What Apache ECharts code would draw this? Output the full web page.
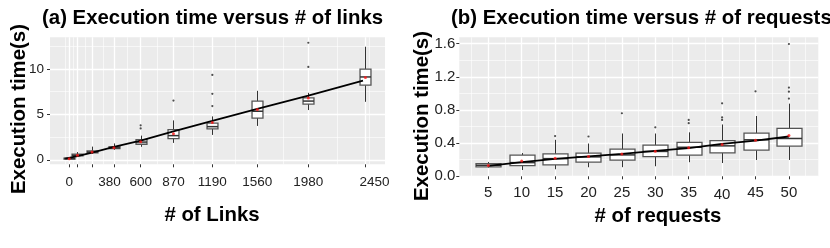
<!DOCTYPE html>
<html><head><meta charset="utf-8">
<script src="https://cdn.jsdelivr.net/npm/echarts@6/dist/echarts.min.js"></script>
<style>html,body{margin:0;padding:0;background:#fff}#c{width:830px;height:248px}</style>
</head><body><div id="c"></div>
<script>
// ---------- Panel (a): execution time vs # of links ----------
const linksX   = [12, 80, 200, 380, 600, 870, 1190, 1560, 1980, 2450];
const aLow     = [0.06, 0.30, 0.65, 1.10, 1.43, 1.86, 2.74, 3.73, 5.48, 6.39];
const aQ1      = [0.10, 0.42, 0.76, 1.22, 1.71, 2.34, 3.40, 4.60, 6.14, 8.22];
const aMed     = [0.14, 0.50, 0.86, 1.32, 1.95, 2.66, 3.65, 5.35, 6.47, 9.13];
const aQ3      = [0.18, 0.62, 0.98, 1.45, 2.22, 3.32, 4.05, 6.47, 6.83, 10.00];
const aHigh    = [0.25, 0.85, 1.45, 1.80, 2.66, 4.34, 4.78, 7.60, 7.38, 12.46];
const aMean    = [0.12, 0.50, 0.86, 1.32, 1.98, 2.88, 4.12, 5.55, 6.80, 9.06];
const aOutX    = [600, 600, 870, 1190, 1190, 1190, 1980, 1980];
const aOutY    = [3.80, 3.45, 6.53, 9.35, 7.27, 5.92, 10.23, 12.90];
const aTrendX  = [-20, 80, 200, 380, 600, 870, 1190, 1560, 1980, 2430];
const aTrendY  = [0.12, 0.40, 0.80, 1.43, 2.12, 3.14, 4.28, 5.62, 7.08, 8.73];
const aTickLabels = ['0', '380', '600', '870', '1190', '1560', '1980', '2450'];
const aLabelPos   = [12, 343, 600, 870, 1190, 1560, 1980, 2525];
const aYTicks  = [0, 5, 10];

// ---------- Panel (b): execution time vs # of requests ----------
const reqX     = [5, 10, 15, 20, 25, 30, 35, 40, 45, 50];
const bLow     = [0.105, 0.076, 0.085, 0.109, 0.110, 0.121, 0.170, 0.160, 0.197, 0.197];
const bQ1      = [0.113, 0.129, 0.137, 0.170, 0.194, 0.238, 0.255, 0.282, 0.315, 0.364];
const bMed     = [0.133, 0.165, 0.213, 0.234, 0.258, 0.300, 0.350, 0.367, 0.440, 0.456];
const bQ3      = [0.153, 0.255, 0.270, 0.279, 0.327, 0.375, 0.408, 0.430, 0.520, 0.577];
const bHigh    = [0.173, 0.280, 0.440, 0.395, 0.516, 0.516, 0.530, 0.625, 0.727, 0.876];
const bMean    = [0.130, 0.185, 0.218, 0.238, 0.270, 0.303, 0.343, 0.383, 0.436, 0.492];
const bOutX    = [15, 20, 25, 30, 35, 35, 40, 40, 40, 45, 50, 50, 50, 50];
const bOutY    = [0.485, 0.48, 0.76, 0.59, 0.68, 0.64, 0.88, 0.71, 0.68, 1.025, 0.937, 1.02, 1.07, 1.595];
const bTrendY  = [0.125, 0.17, 0.21, 0.24, 0.27, 0.307, 0.34, 0.39, 0.43, 0.48];
const bYTicks  = [0, 0.4, 0.8, 1.2, 1.6];
const bLoweredLabel = 40;   // this tick label sits a little lower in the original

// ---------- helpers ----------
function midpoints(arr) {
  const d0 = arr[1] - arr[0];
  const ext = [arr[0] - d0].concat(arr, [arr[arr.length - 1] + d0]);
  const out = [];
  for (let i = 0; i < ext.length - 1; i++) out.push((ext[i] + ext[i + 1]) / 2);
  return out;
}
function boxRows(x, lo, q1, md, q3, hi) { return x.map((v, i) => [v, lo[i], q1[i], md[i], q3[i], hi[i]]); }
function pairs(x, y) { return x.map((v, i) => [v, y[i]]); }

function boxRenderer(boxW) {
  return function (params, api) {
    const x = api.value(0);
    const lo = api.coord([x, api.value(1)]);
    const q1 = api.coord([x, api.value(2)]);
    const md = api.coord([x, api.value(3)]);
    const q3 = api.coord([x, api.value(4)]);
    const hi = api.coord([x, api.value(5)]);
    const half = api.size([boxW, 0])[0] / 2;
    const cx = Math.round(q1[0]) + 0.5;
    return {
      type: 'group',
      children: [
        { type: 'line', shape: { x1: cx, y1: hi[1], x2: cx, y2: q3[1] }, style: { stroke: '#333', lineWidth: 1 } },
        { type: 'line', shape: { x1: cx, y1: q1[1], x2: cx, y2: lo[1] }, style: { stroke: '#333', lineWidth: 1 } },
        { type: 'rect', shape: { x: cx - half, y: q3[1], width: 2 * half, height: Math.max(q1[1] - q3[1], 1) },
          style: { fill: '#fff', stroke: '#555', lineWidth: 1.3 } },
        { type: 'line', shape: { x1: cx - half, y1: md[1], x2: cx + half, y2: md[1] }, style: { stroke: '#333', lineWidth: 1.5 } }
      ]
    };
  };
}

const FONT = '"Liberation Sans", Arial, Helvetica, sans-serif';
const tickStyle = { show: true, length: 3, lineStyle: { color: '#333', width: 1 } };
const noLine = { show: false, onZero: false };
const majorSplit = { show: true, lineStyle: { color: '#fff', width: 1.3 } };
const minorSplit = { show: true, lineStyle: { color: '#fff', width: 0.6 } };
const labelA = { fontSize: 13.5, color: '#222', fontFamily: FONT };
const labelB = { fontSize: 15, color: '#222', fontFamily: FONT };

const A_XMIN = -146, A_XMAX = 2611, A_YMIN = -0.5, A_YMAX = 13.5;
const B_XMIN = 0.66, B_XMAX = 54.4, B_YMIN = 0, B_YMAX = 1.676;

const chart = echarts.init(document.getElementById('c'), null, { renderer: 'canvas' });
chart.setOption({
  animation: false,
  backgroundColor: '#fff',
  grid: [
    { left: 50, top: 37.3, width: 335, bottom: 83.7, show: true, backgroundColor: '#EBEBEB', borderWidth: 0, outerBoundsMode: 'none' },
    { left: 459.3, top: 37.3, right: 11.7, bottom: 71.7, show: true, backgroundColor: '#EBEBEB', borderWidth: 0, outerBoundsMode: 'none' }
  ],
  xAxis: [
    { type: 'value', gridIndex: 0, min: A_XMIN, max: A_XMAX, position: 'bottom',
      axisLine: noLine, axisTick: Object.assign({ customValues: linksX }, tickStyle),
      axisLabel: Object.assign({ customValues: aLabelPos, margin: 11,
        formatter: v => { const i = aLabelPos.indexOf(v); return i >= 0 ? aTickLabels[i] : ''; } }, labelA),
      splitLine: majorSplit },
    { type: 'value', gridIndex: 0, min: A_XMIN, max: A_XMAX, position: 'bottom',
      axisLine: noLine, axisTick: { show: false, customValues: midpoints(linksX) },
      axisLabel: { show: false }, splitLine: minorSplit },
    { type: 'value', gridIndex: 1, min: B_XMIN, max: B_XMAX, position: 'bottom',
      axisLine: noLine, axisTick: Object.assign({ customValues: reqX }, tickStyle),
      axisLabel: Object.assign({ customValues: reqX, margin: 9,
        formatter: v => v === bLoweredLabel ? '{low|' + v + '}' : String(v),
        rich: { low: { fontSize: 15, color: '#222', fontFamily: FONT, padding: [2, 0, 0, 0] } } }, labelB),
      splitLine: majorSplit },
    { type: 'value', gridIndex: 1, min: B_XMIN, max: B_XMAX, position: 'bottom',
      axisLine: noLine, axisTick: { show: false, customValues: midpoints(reqX) },
      axisLabel: { show: false }, splitLine: minorSplit }
  ],
  yAxis: [
    { type: 'value', gridIndex: 0, min: A_YMIN, max: A_YMAX, position: 'left',
      axisLine: noLine, axisTick: Object.assign({ customValues: aYTicks }, tickStyle),
      axisLabel: Object.assign({ customValues: aYTicks, margin: 6, formatter: v => String(v) }, labelA),
      splitLine: majorSplit },
    { type: 'value', gridIndex: 0, min: A_YMIN, max: A_YMAX, position: 'left',
      axisLine: noLine, axisTick: { show: false, customValues: midpoints(aYTicks) },
      axisLabel: { show: false }, splitLine: minorSplit },
    { type: 'value', gridIndex: 1, min: B_YMIN, max: B_YMAX, position: 'left',
      axisLine: noLine, axisTick: Object.assign({ customValues: bYTicks }, tickStyle),
      axisLabel: Object.assign({ customValues: bYTicks, margin: 4, formatter: v => v.toFixed(1) }, labelB),
      splitLine: majorSplit },
    { type: 'value', gridIndex: 1, min: B_YMIN, max: B_YMAX, position: 'left',
      axisLine: noLine, axisTick: { show: false, customValues: midpoints(bYTicks) },
      axisLabel: { show: false }, splitLine: minorSplit }
  ],
  series: [
    { type: 'custom', xAxisIndex: 0, yAxisIndex: 0, z: 2, renderItem: boxRenderer(90),
      data: boxRows(linksX, aLow, aQ1, aMed, aQ3, aHigh), encode: { x: 0, y: [1, 2, 3, 4, 5] } },
    { type: 'scatter', xAxisIndex: 0, yAxisIndex: 0, z: 3, symbolSize: 2.2, itemStyle: { color: '#222' },
      data: pairs(aOutX, aOutY) },
    { type: 'line', xAxisIndex: 0, yAxisIndex: 0, z: 4, showSymbol: false, symbol: 'none',
      lineStyle: { color: '#000', width: 1.8 }, data: pairs(aTrendX, aTrendY) },
    { type: 'scatter', xAxisIndex: 0, yAxisIndex: 0, z: 5, symbolSize: 3, itemStyle: { color: '#ff1a1a' },
      data: pairs(linksX, aMean) },

    { type: 'custom', xAxisIndex: 2, yAxisIndex: 2, z: 2, renderItem: boxRenderer(3.74),
      data: boxRows(reqX, bLow, bQ1, bMed, bQ3, bHigh), encode: { x: 0, y: [1, 2, 3, 4, 5] } },
    { type: 'scatter', xAxisIndex: 2, yAxisIndex: 2, z: 3, symbolSize: 2.2, itemStyle: { color: '#222' },
      data: pairs(bOutX, bOutY) },
    { type: 'line', xAxisIndex: 2, yAxisIndex: 2, z: 4, showSymbol: false, symbol: 'none',
      lineStyle: { color: '#000', width: 1.8 }, data: pairs(reqX, bTrendY) },
    { type: 'scatter', xAxisIndex: 2, yAxisIndex: 2, z: 5, symbolSize: 3, itemStyle: { color: '#ff1a1a' },
      data: pairs(reqX, bMean) }
  ],
  graphic: [
    { type: 'text', x: 42, y: 18.5, style: { text: '(a) Execution time versus # of links', font: 'bold 20.4px ' + FONT, fill: '#000',
      textAlign: 'left', textVerticalAlign: 'middle' } },
    { type: 'text', x: 451, y: 18.5, style: { text: '(b) Execution time versus # of requests', font: 'bold 20.4px ' + FONT, fill: '#000',
      textAlign: 'left', textVerticalAlign: 'middle' } },
    { type: 'text', x: 19.5, y: 109, rotation: Math.PI / 2, style: { text: 'Execution time(s)', font: 'bold 20.4px ' + FONT, fill: '#000',
      textAlign: 'center', textVerticalAlign: 'middle' } },
    { type: 'text', x: 422.5, y: 116, rotation: Math.PI / 2, style: { text: 'Execution time(s)', font: 'bold 20.4px ' + FONT, fill: '#000',
      textAlign: 'center', textVerticalAlign: 'middle' } },
    { type: 'text', x: 212, y: 215, style: { text: '# of Links', font: 'bold 20.4px ' + FONT, fill: '#000',
      textAlign: 'center', textVerticalAlign: 'middle' } },
    { type: 'text', x: 658, y: 216, style: { text: '# of requests', font: 'bold 20.4px ' + FONT, fill: '#000',
      textAlign: 'center', textVerticalAlign: 'middle' } }
  ]
});
</script></body></html>
